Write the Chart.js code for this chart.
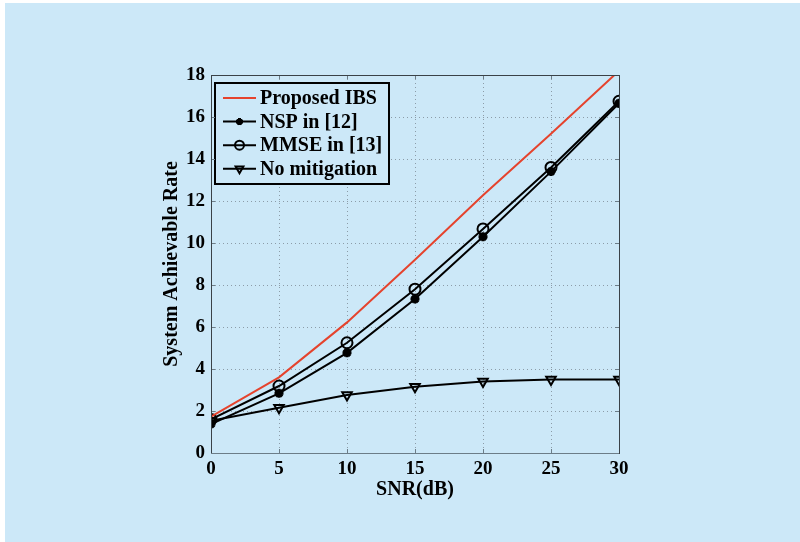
<!DOCTYPE html>
<html>
<head>
<meta charset="utf-8">
<script src="https://cdn.jsdelivr.net/npm/chart.js@4.4.1/dist/chart.umd.min.js"></script>
<style>
  body { margin: 0; background: #fff; }
  canvas { display: block; }
</style>
</head>
<body>
<canvas id="chart" width="800" height="542"></canvas>
<script>
// values
const snr = [0, 5, 10, 15, 20, 25, 30];
const proposedIBS = [1.73, 3.6, 6.22, 9.2, 12.27, 15.2, 18.2];
const nspRate = [1.38, 2.84, 4.77, 7.33, 10.3, 13.4, 16.65];
const mmseRate = [1.6, 3.19, 5.25, 7.8, 10.67, 13.6, 16.75];
const noMitigation = [1.54, 2.15, 2.76, 3.15, 3.4, 3.5, 3.5];

const xTicks = [0, 5, 10, 15, 20, 25, 30];
const yTicks = [0, 2, 4, 6, 8, 10, 12, 14, 16, 18];

const seriesNames = ['Proposed IBS', 'NSP in [12]', 'MMSE in [13]', 'No mitigation'];

const BG = '#cce8f8';
const RED = '#e5432d';
const GRID = '#8c9ca8';
const FONT = '"Liberation Serif", "Times New Roman", serif';

const toPoints = (ys) => snr.map((x, i) => ({ x, y: ys[i] }));

// page background (white strip on top/left edges)
const backgroundPlugin = {
  id: 'pageBg',
  beforeDraw(chart) {
    const ctx = chart.ctx;
    ctx.save();
    ctx.fillStyle = BG;
    ctx.fillRect(5, 3, chart.width - 5, chart.height - 3);
    ctx.restore();
  }
};

// dotted grid, drawn under the lines
const gridPlugin = {
  id: 'dotGrid',
  beforeDatasetsDraw(chart) {
    const { ctx, chartArea: a, scales } = chart;
    ctx.save();
    ctx.strokeStyle = GRID;
    ctx.lineWidth = 1;
    ctx.setLineDash([1, 3]);
    ctx.beginPath();
    xTicks.slice(1, -1).forEach(t => {
      const px = Math.round(scales.x.getPixelForValue(t)) + 0.5;
      ctx.moveTo(px, a.top); ctx.lineTo(px, a.bottom);
    });
    yTicks.slice(1, -1).forEach(t => {
      const py = Math.round(scales.y.getPixelForValue(t)) + 0.5;
      ctx.moveTo(a.left, py); ctx.lineTo(a.right, py);
    });
    ctx.stroke();
    ctx.restore();
  }
};

// MATLAB-like box with inward ticks
const boxPlugin = {
  id: 'box',
  afterDraw(chart) {
    const { ctx, chartArea: a, scales } = chart;
    ctx.save();
    ctx.lineWidth = 1;
    ctx.strokeStyle = '#6c7d88';
    ctx.beginPath();
    xTicks.forEach(t => {
      const px = Math.round(scales.x.getPixelForValue(t)) + 0.5;
      ctx.moveTo(px, a.bottom); ctx.lineTo(px, a.bottom - 4);
      ctx.moveTo(px, a.top); ctx.lineTo(px, a.top + 4);
    });
    yTicks.forEach(t => {
      const py = Math.round(scales.y.getPixelForValue(t)) + 0.5;
      ctx.moveTo(a.left, py); ctx.lineTo(a.left + 4, py);
      ctx.moveTo(a.right, py); ctx.lineTo(a.right - 4, py);
    });
    ctx.stroke();
    ctx.strokeStyle = '#3a4248';
    ctx.strokeRect(Math.round(a.left) + 0.5, Math.round(a.top) + 0.5,
      Math.round(a.right - a.left), Math.round(a.bottom - a.top));
    ctx.strokeStyle = '#6c7d88';
    ctx.beginPath();
    ctx.moveTo(a.left, Math.round(a.bottom) + 0.5);
    ctx.lineTo(a.right, Math.round(a.bottom) + 0.5);
    ctx.stroke();
    ctx.restore();
  }
};

// legend inside the plot, upper left
const legendPlugin = {
  id: 'boxLegend',
  afterDatasetsDraw(chart) {
    const ctx = chart.ctx;
    const left = 215, top = 83, w = 174, h = 101;
    ctx.save();
    ctx.fillStyle = BG;
    ctx.fillRect(left, top, w, h);
    ctx.lineWidth = 2;
    ctx.strokeStyle = '#000';
    ctx.strokeRect(left, top, w, h);
    ctx.font = 'bold 20px ' + FONT;
    ctx.textBaseline = 'middle';
    chart.data.datasets.forEach((ds, i) => {
      const y = 98 + i * 23.6;
      ctx.strokeStyle = ds.borderColor;
      ctx.lineWidth = 2;
      ctx.beginPath();
      ctx.moveTo(223, y); ctx.lineTo(256, y);
      ctx.stroke();
      if (ds.pointRadius > 0) {
        ctx.fillStyle = ds.pointBackgroundColor;
        ctx.strokeStyle = ds.pointBorderColor;
        ctx.lineWidth = ds.pointBorderWidth;
        Chart.helpers.drawPoint(ctx, {
          pointStyle: ds.pointStyle,
          rotation: ds.pointRotation || 0,
          radius: ds.pointRadius - 1,
          borderWidth: ds.pointBorderWidth
        }, 239.5, y);
      }
      ctx.fillStyle = '#000';
      ctx.fillText(seriesNames[i], 260, y + 1);
    });
    ctx.restore();
  }
};

const ctx = document.getElementById('chart').getContext('2d');
new Chart(ctx, {
  type: 'line',
  data: {
    datasets: [
      {
        label: seriesNames[0], data: toPoints(proposedIBS),
        borderColor: RED, borderWidth: 2, pointRadius: 0, tension: 0
      },
      {
        label: seriesNames[1], data: toPoints(nspRate),
        borderColor: '#000', borderWidth: 2,
        pointStyle: 'star', pointRadius: 4.5, pointBorderWidth: 3,
        pointBorderColor: '#000', pointBackgroundColor: '#000'
      },
      {
        label: seriesNames[2], data: toPoints(mmseRate),
        borderColor: '#000', borderWidth: 2,
        pointStyle: 'circle', pointRadius: 5.5, pointBorderWidth: 2,
        pointBorderColor: '#000', pointBackgroundColor: 'rgba(0,0,0,0)'
      },
      {
        label: seriesNames[3], data: toPoints(noMitigation),
        borderColor: '#000', borderWidth: 2,
        pointStyle: 'triangle', pointRotation: 180, pointRadius: 5.5, pointBorderWidth: 2,
        pointBorderColor: '#000', pointBackgroundColor: 'rgba(0,0,0,0)'
      }
    ]
  },
  options: {
    responsive: false,
    animation: false,
    layout: { padding: { left: 155, right: 181, top: 75, bottom: 36 } },
    plugins: { legend: { display: false }, tooltip: { enabled: false } },
    elements: { line: { tension: 0 } },
    scales: {
      x: {
        type: 'linear', min: 0, max: 30,
        afterFit: (s) => { s.height = 53; },
        afterBuildTicks: (s) => { s.ticks = xTicks.map(v => ({ value: v })); },
        grid: { display: false, drawTicks: false },
        border: { display: false },
        ticks: { padding: 5, color: '#000', font: { family: FONT, size: 19, weight: 'bold' } },
        title: {
          display: true, text: 'SNR(dB)', color: '#000',
          font: { family: FONT, size: 20, weight: 'bold' }, padding: { top: 0, bottom: 4 }
        }
      },
      y: {
        type: 'linear', min: 0, max: 18,
        afterFit: (s) => { s.width = 56; },
        afterBuildTicks: (s) => { s.ticks = yTicks.map(v => ({ value: v })); },
        grid: { display: false, drawTicks: false },
        border: { display: false },
        ticks: { padding: 6, color: '#000', font: { family: FONT, size: 19, weight: 'bold' } },
        title: {
          display: true, text: 'System Achievable Rate', color: '#000',
          font: { family: FONT, size: 20, weight: 'bold' }, padding: { top: 5, bottom: 0 }
        }
      }
    }
  },
  plugins: [backgroundPlugin, gridPlugin, boxPlugin, legendPlugin]
});
</script>
</body>
</html>
